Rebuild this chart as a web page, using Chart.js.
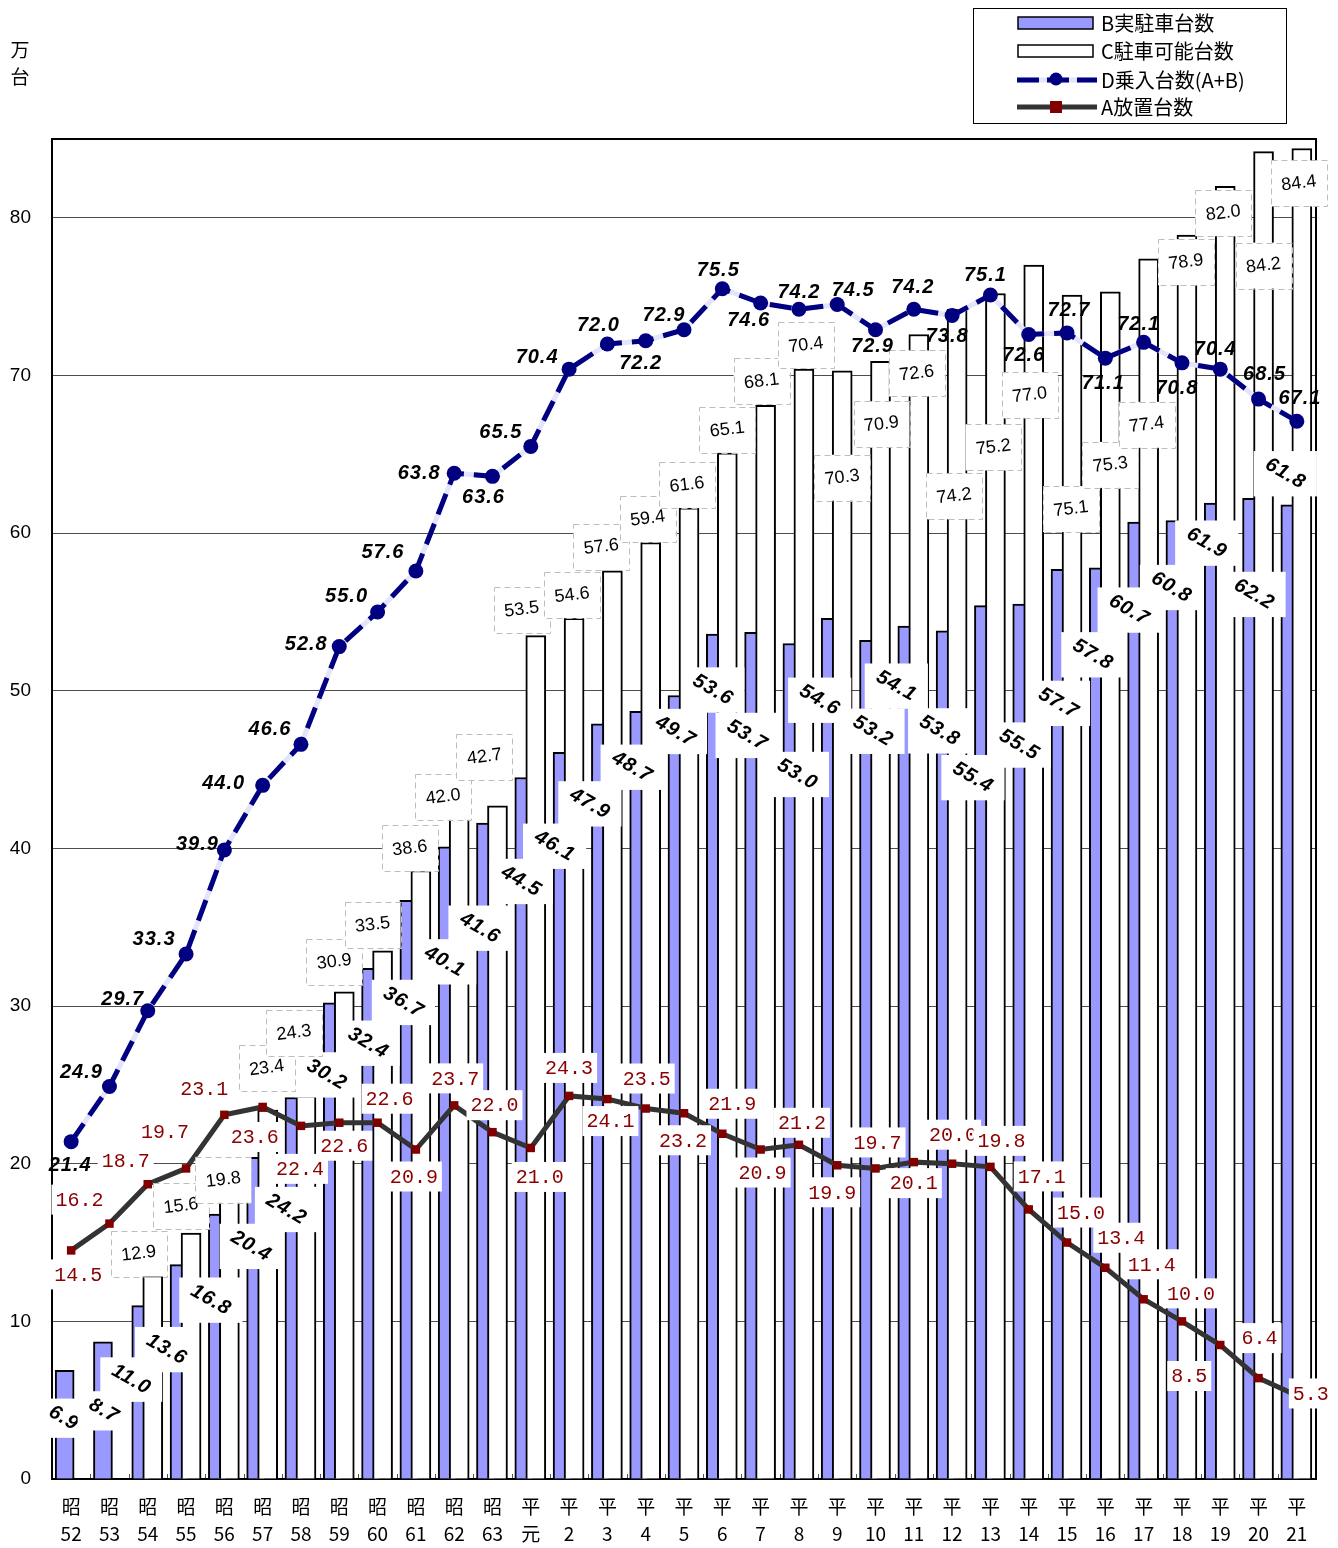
<!DOCTYPE html>
<html>
<head>
<meta charset="utf-8">
<script src="https://cdn.jsdelivr.net/npm/chart.js@4.4.0/dist/chart.umd.min.js"></script>
<style>
  html, body { margin: 0; padding: 0; background: #fff; }
  #wrap { width: 1338px; height: 1548px; }
</style>
</head>
<body>
<div id="wrap"><canvas id="chart" width="1338" height="1548"></canvas></div>
<script>
// categories: era + year (two-line tick labels)
const eraLabels = ['昭','昭','昭','昭','昭','昭','昭','昭','昭','昭','昭','昭',
  '平','平','平','平','平','平','平','平','平','平','平','平','平','平','平','平','平','平','平','平','平'];
const yearLabels = ['52','53','54','55','56','57','58','59','60','61','62','63',
  '元','2','3','4','5','6','7','8','9','10','11','12','13','14','15','16','17','18','19','20','21'];

// B 実駐車台数 (万台)
const parkedB = [6.9, 8.7, 11.0, 13.6, 16.8, 20.4, 24.2, 30.2, 32.4, 36.7, 40.1, 41.6, 44.5,
  46.1, 47.9, 48.7, 49.7, 53.6, 53.7, 53.0, 54.6, 53.2, 54.1, 53.8, 55.4, 55.5, 57.7, 57.8,
  60.7, 60.8, 61.9, 62.2, 61.8];
// C 駐車可能台数
const capacityC = [null, null, 12.9, 15.6, 19.8, 23.4, 24.3, 30.9, 33.5, 38.6, 42.0, 42.7, 53.5,
  54.6, 57.6, 59.4, 61.6, 65.1, 68.1, 70.4, 70.3, 70.9, 72.6, 74.2, 75.2, 77.0, 75.1, 75.3,
  77.4, 78.9, 82.0, 84.2, 84.4];
// D 乗入台数 (A+B)
const inflowD = [21.4, 24.9, 29.7, 33.3, 39.9, 44.0, 46.6, 52.8, 55.0, 57.6, 63.8, 63.6, 65.5,
  70.4, 72.0, 72.2, 72.9, 75.5, 74.6, 74.2, 74.5, 72.9, 74.2, 73.8, 75.1, 72.6, 72.7, 71.1,
  72.1, 70.8, 70.4, 68.5, 67.1];
// A 放置台数
const abandonedA = [14.5, 16.2, 18.7, 19.7, 23.1, 23.6, 22.4, 22.6, 22.6, 20.9, 23.7, 22.0, 21.0,
  24.3, 24.1, 23.5, 23.2, 21.9, 20.9, 21.2, 19.9, 19.7, 20.1, 20.0, 19.8, 17.1, 15.0, 13.4,
  11.4, 10.0, 8.5, 6.4, 5.3];

const yTicks = [0, 10, 20, 30, 40, 50, 60, 70, 80];

// label nudges (px, relative to bar top / point), hand placed like the original
const nudgeB = [[-1,48],[1,69],[-10,74],[-13,85],[-7,86],[-5,89],[-8,112],[-6,72],[-3,75],[-6,102],
  [-3,115],[-6,105],[-3,104],[-8,94],[-11,80],[-7,56],[-2,36],[-3,56],[-7,103],[5,131],[-11,82],
  [4,91],[-11,60],[-6,100],[-11,172],[-3,141],[-2,134],[-6,87],[-8,88],[-4,67],[-7,40],[2,96],[-5,-31]];
const nudgeC = [null,null,[-14,-22],[-10,-27],[-6,13],[-1,-42],[-12,-63],[-10,-30],[-10,-26],[-11,-22],
  [-16,-20],[-13,-49],[-14,-26],[-2,-23],[-11,-24],[-3,-24],[-2,-23],[0,-23],[-4,-24],[2,-24],[0,107],
  [1,63],[-2,39],[-3,187],[-2,154],[-4,130],[-1,214],[0,173],[-2,166],[-1,27],[-2,27],[0,114],[-3,35]];
const nudgeD = [[-1,24],[-28,-14],[-25,-11],[-32,-15],[-27,-6],[-39,-2],[-31,-15],[-33,-2],[-31,-15],
  [-33,-18],[-35,0],[-9,21],[-30,-14],[-32,-12],[-9,-18],[-5,23],[-20,-14],[-4,-18],[-12,18],[0,-17],
  [16,-14],[-3,17],[-1,-22],[-5,21],[-5,-20],[-5,21],[2,-22],[-2,25],[-5,-18],[-5,26],[-5,-20],[6,-25],[3,-23]];
const nudgeA = [[7,24],[-30,-24],[-22,-23],[-21,-37],[-20,-26],[-8,30],[-1,43],[5,23],[12,-24],[-2,27],
  [1,-27],[2,-27],[9,29],[0,-28],[3,22],[1,-30],[-1,27],[10,-30],[2,23],[3,-22],[-5,27],[2,-26],
  [0,21],[1,-29],[11,-26],[13,-33],[14,-30],[16,-30],[8,-35],[9,-28],[-31,31],[1,-40],[14,-2]];

const SANS = "'Liberation Sans', 'Noto Sans CJK JP', sans-serif";
const JP = "'Noto Sans CJK JP', 'Liberation Sans', sans-serif";
const MONO = "'Liberation Mono', 'DejaVu Sans Mono', monospace";

const categories = eraLabels.map((e, i) => [e, yearLabels[i]]);

function drawBLabel(ctx, text, x, y) {
  const ang = 30 * Math.PI / 180;
  ctx.save();
  ctx.font = 'italic bold 20px ' + SANS;
  ctx.letterSpacing = '1px';
  const w = ctx.measureText(text).width, h = 16;
  const bw = w * Math.cos(ang) + h * Math.sin(ang) + 18;
  const bh = w * Math.sin(ang) + h * Math.cos(ang) + 10;
  ctx.fillStyle = '#fff';
  ctx.fillRect(x - bw / 2, y - bh / 2, bw, bh);
  ctx.translate(x, y);
  ctx.rotate(ang);
  ctx.fillStyle = '#000';
  ctx.textAlign = 'center';
  ctx.textBaseline = 'middle';
  ctx.fillText(text, 0, 0);
  ctx.restore();
}

function drawCLabel(ctx, text, x, y) {
  ctx.save();
  const bw = 56, bh = 46;
  ctx.fillStyle = '#fff';
  ctx.fillRect(x - bw / 2, y - bh / 2, bw, bh);
  ctx.strokeStyle = '#bdbdbd';
  ctx.lineWidth = 1;
  ctx.setLineDash([6, 4]);
  ctx.strokeRect(Math.round(x - bw / 2) + 0.5, Math.round(y - bh / 2) + 0.5, bw, bh);
  ctx.setLineDash([]);
  ctx.translate(x, y);
  ctx.rotate(-7 * Math.PI / 180);
  ctx.font = '18px ' + SANS;
  ctx.fillStyle = '#000';
  ctx.textAlign = 'center';
  ctx.textBaseline = 'middle';
  ctx.fillText(text, 0, 0);
  ctx.restore();
}

function drawDLabel(ctx, text, x, y) {
  ctx.save();
  ctx.font = 'italic bold 20px ' + SANS;
  ctx.letterSpacing = '1px';
  ctx.fillStyle = '#000';
  ctx.textAlign = 'center';
  ctx.textBaseline = 'middle';
  ctx.fillText(text, x, y);
  ctx.restore();
}

function drawALabel(ctx, text, x, y) {
  ctx.save();
  ctx.font = '20px ' + MONO;
  const w = ctx.measureText(text).width + 8, h = 30;
  ctx.fillStyle = '#fff';
  ctx.fillRect(x - w / 2, y - h / 2, w, h);
  ctx.fillStyle = '#8b0000';
  ctx.textAlign = 'center';
  ctx.textBaseline = 'middle';
  ctx.fillText(text, x, y + 1);
  ctx.restore();
}

// moves the two bar series sideways so they overlap like the original
const barShift = {
  id: 'barShift',
  afterDatasetsUpdate(chart) {
    chart.data.datasets.forEach((ds, i) => {
      if (!ds.xShift) return;
      chart.getDatasetMeta(i).data.forEach(el => { el.x += ds.xShift; });
    });
  }
};

const frameAndLabels = {
  id: 'frameAndLabels',
  beforeDatasetsDraw(chart) {
    const { ctx, chartArea: a } = chart;
    const xs = chart.scales.x;
    ctx.save();
    // small category tick marks on the bottom axis
    ctx.strokeStyle = '#555';
    ctx.lineWidth = 1;
    for (let i = 1; i < categories.length; i++) {
      const px = Math.round((xs.getPixelForValue(i - 1) + xs.getPixelForValue(i)) / 2) + 0.5;
      ctx.beginPath(); ctx.moveTo(px, a.bottom); ctx.lineTo(px, a.bottom - 5); ctx.stroke();
    }
    ctx.strokeStyle = '#000';
    ctx.lineWidth = 2;
    ctx.strokeRect(a.left, a.top, a.right - a.left, a.bottom - a.top);
    ctx.restore();
  },
  afterDatasetsDraw(chart) {
    const ctx = chart.ctx;
    const metaB = chart.getDatasetMeta(0).data;
    const metaC = chart.getDatasetMeta(1).data;
    const metaD = chart.getDatasetMeta(3).data;
    const metaA = chart.getDatasetMeta(4).data;
    parkedB.forEach((v, i) => {
      drawBLabel(ctx, v.toFixed(1), metaB[i].x + nudgeB[i][0], metaB[i].y + nudgeB[i][1]);
    });
    capacityC.forEach((v, i) => {
      if (v == null) return;
      drawCLabel(ctx, v.toFixed(1), metaC[i].x + nudgeC[i][0], metaC[i].y + nudgeC[i][1]);
    });
    inflowD.forEach((v, i) => {
      drawDLabel(ctx, v.toFixed(1), metaD[i].x + nudgeD[i][0], metaD[i].y + nudgeD[i][1]);
    });
    abandonedA.forEach((v, i) => {
      drawALabel(ctx, v.toFixed(1), metaA[i].x + nudgeA[i][0], metaA[i].y + nudgeA[i][1]);
    });
  },
  afterDraw(chart) {
    const ctx = chart.ctx;
    ctx.save();
    // unit
    ctx.font = '19px ' + JP;
    ctx.fillStyle = '#000';
    ctx.textAlign = 'center';
    ctx.textBaseline = 'middle';
    ctx.fillText('万', 20, 50);
    ctx.fillText('台', 20, 77);
    // legend
    ctx.strokeStyle = '#000';
    ctx.lineWidth = 1;
    ctx.strokeRect(973.5, 8.5, 313, 115);
    ctx.fillStyle = '#9999ff';
    ctx.fillRect(1018, 17, 75, 12);
    ctx.lineWidth = 1.5;
    ctx.strokeRect(1018, 17, 75, 12);
    ctx.fillStyle = '#fff';
    ctx.fillRect(1018, 45, 75, 12);
    ctx.strokeRect(1018, 45, 75, 12);
    ctx.lineWidth = 5;
    ctx.strokeStyle = '#e4e4fb';
    ctx.beginPath(); ctx.moveTo(1017, 80); ctx.lineTo(1097, 80); ctx.stroke();
    ctx.strokeStyle = '#000080';
    ctx.setLineDash([22, 8]);
    ctx.beginPath(); ctx.moveTo(1017, 80); ctx.lineTo(1097, 80); ctx.stroke();
    ctx.setLineDash([]);
    ctx.fillStyle = '#000080';
    ctx.beginPath(); ctx.arc(1056, 79, 6.5, 0, Math.PI * 2); ctx.fill();
    ctx.strokeStyle = '#333';
    ctx.beginPath(); ctx.moveTo(1017, 107); ctx.lineTo(1097, 107); ctx.stroke();
    ctx.fillStyle = '#800000';
    ctx.fillRect(1050, 101, 12, 12);
    ctx.fillStyle = '#000';
    ctx.textAlign = 'left';
    ctx.font = '20px ' + JP;
    ctx.fillText('B実駐車台数', 1101, 23);
    ctx.fillText('C駐車可能台数', 1101, 51);
    ctx.fillText('D乗入台数(A+B)', 1101, 80);
    ctx.fillText('A放置台数', 1101, 107);
    ctx.restore();
  }
};

new Chart(document.getElementById('chart'), {
  type: 'bar',
  data: {
    labels: categories,
    datasets: [
      {
        label: 'B実駐車台数', data: parkedB, backgroundColor: '#9999ff', borderColor: '#000',
        borderWidth: 2, borderSkipped: 'bottom', barThickness: 19, grouped: false, xShift: -6.5, order: 4
      },
      {
        label: 'C駐車可能台数', data: capacityC, backgroundColor: '#fff', borderColor: '#000',
        borderWidth: 2, borderSkipped: 'bottom', barThickness: 20, grouped: false, xShift: 5, order: 3
      },
      {
        type: 'line', label: 'underlay', data: inflowD, borderColor: '#e4e4fb', borderWidth: 5,
        pointRadius: 0, tension: 0, order: 2
      },
      {
        type: 'line', label: 'D乗入台数(A+B)', data: inflowD, borderColor: '#000080', borderWidth: 5,
        borderDash: [22, 10], pointStyle: 'circle', pointRadius: 7.5, pointBackgroundColor: '#000080',
        pointBorderColor: '#000080', pointBorderWidth: 0, tension: 0, order: 1
      },
      {
        type: 'line', label: 'A放置台数', data: abandonedA, borderColor: '#333', borderWidth: 5,
        pointStyle: 'rect', pointRadius: 6, pointBackgroundColor: '#800000', pointBorderColor: '#800000',
        pointBorderWidth: 0, tension: 0, order: 0
      }
    ]
  },
  options: {
    responsive: false,
    animation: false,
    layout: { padding: { top: 139, right: 22, left: 0, bottom: 0 } },
    plugins: { legend: { display: false }, tooltip: { enabled: false } },
    scales: {
      x: {
        offset: true,
        grid: { display: false, drawTicks: false },
        border: { display: false },
        ticks: { color: '#000', font: { family: JP, size: 19, lineHeight: 1.42 }, padding: 14, maxRotation: 0, autoSkip: false },
        afterFit(scale) { scale.height = 69; }
      },
      y: {
        min: 0, max: 85,
        afterBuildTicks(scale) { scale.ticks = yTicks.map(v => ({ value: v })); },
        grid: {
          drawTicks: false,
          color: c => (c.tick && c.tick.value === 0) ? 'rgba(0,0,0,0)' : '#4d4d4d',
          lineWidth: 1
        },
        border: { display: false },
        ticks: { color: '#000', font: { family: SANS, size: 19 }, padding: 21 },
        afterFit(scale) { scale.width = 52; }
      }
    }
  },
  plugins: [barShift, frameAndLabels]
});
</script>
</body>
</html>
